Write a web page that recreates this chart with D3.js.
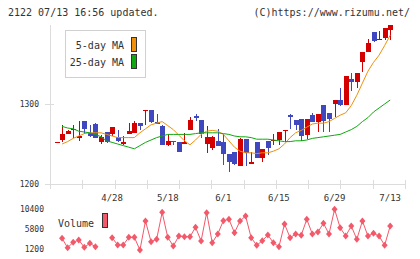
<!DOCTYPE html>
<html>
<head>
<meta charset="utf-8">
<script src="https://cdn.jsdelivr.net/npm/d3@7"></script>
<style>
  html, body { margin: 0; padding: 0; background: #fff; }
  svg { display: block; font-family: "DejaVu Sans Mono", monospace; }
</style>
</head>
<body>
<div id="chart"></div>
<script>
// Daily candles 2022/04/14 - 07/13, index 0..60
const open  = [1252,1255,1263,1268,1257,1279,1264,1275,1253,1265,1263,1259,1250,1263,1264,1276,1292,1292,1278,1272,1249,1254,1253,1250,1267,1285,1280,1250,1245,1254,1252,1238,1240,1223,1256,1225,1252,1233,1254,1254,1255,1267,1286,1280,1281,1261,1286,1278,1299,1289,1300,1305,1299,1331,1327,1353,1365,1390,1380,1383,1392];
const high  = [1253,1274,1268,1274,1279,1279,1274,1276,1261,1265,1271,1268,1260,1276,1279,1276,1293,1292,1288,1274,1262,1254,1253,1264,1284,1288,1280,1272,1260,1269,1262,1238,1240,1258,1256,1240,1252,1244,1254,1262,1265,1268,1288,1280,1281,1281,1289,1288,1299,1289,1305,1320,1335,1339,1339,1365,1381,1390,1391,1395,1399];
const low   = [1252,1252,1263,1258,1254,1263,1259,1257,1250,1251,1260,1253,1249,1262,1264,1268,1274,1276,1275,1249,1248,1249,1240,1250,1267,1279,1258,1239,1243,1247,1224,1215,1224,1223,1223,1225,1233,1227,1236,1249,1249,1253,1269,1267,1254,1256,1278,1265,1265,1265,1284,1297,1299,1316,1320,1340,1365,1378,1380,1380,1380];
const close = [1253,1263,1266,1269,1260,1269,1260,1258,1259,1252,1271,1254,1252,1266,1276,1272,1293,1278,1275,1249,1254,1252,1240,1252,1280,1283,1262,1259,1259,1248,1238,1227,1225,1256,1239,1228,1233,1244,1245,1255,1265,1268,1284,1274,1260,1281,1278,1288,1279,1281,1305,1299,1335,1328,1339,1365,1376,1379,1381,1395,1399];
const ma5   = [null,1250,1253,1257,1260,1263,1264,1264,1264,1262,1260,1258,1258,1258,1258,1264,1269,1274,1276,1278,1273,1268,1261,1254,1249,1255,1262,1266,1267,1266,1262,1254,1246,1241,1239,1239,1238,1239,1239,1241,1244,1250,1258,1264,1267,1271,1275,1276,1276,1278,1282,1286,1289,1298,1311,1326,1341,1352,1361,1373,1386];
const ma25  = [null,1272,1270,1269,1266,1265,1264,1262,1259,1254,1252,1250,1248,1246,1244,1248,1252,1255,1258,1260,1262,1262,1262,1262,1262,1263,1264,1264,1264,1264,1263,1262,1260,1259,1259,1258,1256,1256,1256,1255,1254,1253,1253,1254,1254,1255,1257,1258,1259,1260,1261,1262,1265,1268,1272,1278,1283,1290,1295,1300,1305];
const volume = [null,3660,1500,2740,3270,1590,2510,1730,null,null,3800,2120,2120,3890,3890,970,7640,2880,3430,9640,3890,1890,4190,4030,4030,6190,3040,9550,2650,4650,7710,8030,4950,7640,8790,3800,2050,3110,4420,2650,1730,6950,3800,4650,4350,8030,4650,5110,7110,4650,10330,6100,4190,6490,3430,7640,4190,4810,4190,2050,6490];
const dateIdx    = [10,20,30,40,50,60];
const dateLabels = ["4/28","5/18","6/1","6/15","6/29","7/13"];
const priceTicks = [1200,1300];
const volTicks   = [1200,5800,10400];

(function(){
  const width = 420, height = 259;
  const RED = "#d40000", BLUE = "#4048c0", ORANGE = "#f0900a", GREEN = "#10a810";
  const VOL = "#f2596a", AXIS = "#dcdcdc", TXT = "#333";

  const svg = d3.select("#chart").append("svg")
    .attr("width", width)
    .attr("height", height);

  // Scales
  const x = d3.scaleLinear().domain([0, open.length - 1]).range([56.5, 390.2]);
  const y = d3.scaleLinear().domain([1200, 1400]).range([184, 24]);
  const yv = d3.scaleLinear().domain([1200, 10400]).range([249, 209]);
  const grid = d3.scaleLinear().domain([0, 11]).range([50, 405]);

  // Header
  svg.append("text").attr("x", 8).attr("y", 16)
    .attr("fill", TXT).style("font-size", "10px")
    .text("2122 07/13 16:56 updated.");
  svg.append("text").attr("x", 410).attr("y", 16)
    .attr("text-anchor", "end")
    .attr("fill", TXT).style("font-size", "10px")
    .text("(C)https://www.rizumu.net/");

  // Axes
  const ax = svg.append("g").attr("stroke", AXIS).attr("shape-rendering", "crispEdges");
  ax.append("line").attr("x1", 50.5).attr("x2", 50.5).attr("y1", 25).attr("y2", 189);
  ax.append("line").attr("x1", 45).attr("x2", 405).attr("y1", y(1200) + 0.5).attr("y2", y(1200) + 0.5);
  ax.selectAll(".xt").data(d3.range(1, 12)).join("line")
    .attr("x1", d => Math.round(grid(d)) + 0.5).attr("x2", d => Math.round(grid(d)) + 0.5)
    .attr("y1", 180).attr("y2", 189);
  ax.selectAll(".yt").data(priceTicks).join("line")
    .attr("x1", 45).attr("x2", 54)
    .attr("y1", d => y(d) + 0.5).attr("y2", d => y(d) + 0.5);

  svg.selectAll(".ylab").data(priceTicks).join("text")
    .attr("x", 39).attr("y", d => y(d) + 3)
    .attr("text-anchor", "end").attr("fill", TXT)
    .style("font-size", "8px")
    .text(d => d);

  svg.selectAll(".xlab").data(dateIdx).join("text")
    .attr("x", d => x(d)).attr("y", 201)
    .attr("text-anchor", "middle").attr("fill", TXT)
    .style("font-size", "9px")
    .text((d, i) => dateLabels[i]);

  // Candles
  const candles = svg.append("g").attr("shape-rendering", "crispEdges");
  const idx = d3.range(open.length);
  const col = i => close[i] >= open[i] ? RED : BLUE;
  candles.selectAll(".wick").data(idx).join("line")
    .attr("x1", i => Math.round(x(i)) + 0.5).attr("x2", i => Math.round(x(i)) + 0.5)
    .attr("y1", i => y(high[i])).attr("y2", i => y(low[i]))
    .attr("stroke", col);
  candles.selectAll(".body").data(idx).join("rect")
    .attr("x", i => Math.round(x(i)) - 2)
    .attr("width", 5)
    .attr("y", i => y(Math.max(open[i], close[i])))
    .attr("height", i => Math.max(1, Math.abs(y(open[i]) - y(close[i]))))
    .attr("fill", col);

  // Moving averages
  const maLine = arr => d3.line()
    .defined(i => arr[i] != null)
    .x(i => x(i)).y(i => y(arr[i]))(idx);
  svg.append("path").attr("d", maLine(ma5))
    .attr("fill", "none").attr("stroke", ORANGE).attr("stroke-width", 1);
  svg.append("path").attr("d", maLine(ma25))
    .attr("fill", "none").attr("stroke", GREEN).attr("stroke-width", 1);

  // Legend
  const lg = svg.append("g").attr("shape-rendering", "crispEdges");
  lg.append("rect").attr("x", 65.5).attr("y", 30.5).attr("width", 80).attr("height", 47)
    .attr("fill", "#fff").attr("stroke", "#d0d0d0");
  [["5-day MA", ORANGE], ["25-day MA", GREEN]].forEach((d, i) => {
    lg.append("text").attr("x", 124).attr("y", 49 + i * 17)
      .attr("text-anchor", "end").attr("fill", TXT).style("font-size", "10px")
      .text(d[0]);
    lg.append("rect").attr("x", 131.5).attr("y", 37.5 + i * 17).attr("width", 5).attr("height", 14)
      .attr("fill", d[1]).attr("stroke", "#333");
  });

  // Volume
  svg.selectAll(".vlab").data(volTicks).join("text")
    .attr("x", 44).attr("y", d => yv(d) + 3)
    .attr("text-anchor", "end").attr("fill", TXT)
    .style("font-size", "8px")
    .text(d => d);

  svg.append("path")
    .attr("d", d3.line().defined(i => volume[i] != null).x(i => x(i)).y(i => yv(volume[i]))(idx))
    .attr("fill", "none").attr("stroke", VOL).attr("stroke-width", 1);
  svg.selectAll(".vdot").data(idx.filter(i => volume[i] != null)).join("path")
    .attr("d", i => `M${x(i)},${yv(volume[i]) - 3.5}l3,3.5l-3,3.5l-3,-3.5z`)
    .attr("fill", VOL);

  svg.append("text").attr("x", 58).attr("y", 227)
    .attr("fill", TXT).style("font-size", "10px").text("Volume");
  svg.append("rect").attr("x", 102.5).attr("y", 213.5).attr("width", 5).attr("height", 14)
    .attr("fill", VOL).attr("stroke", "#333").attr("shape-rendering", "crispEdges");
})();
</script>
</body>
</html>
